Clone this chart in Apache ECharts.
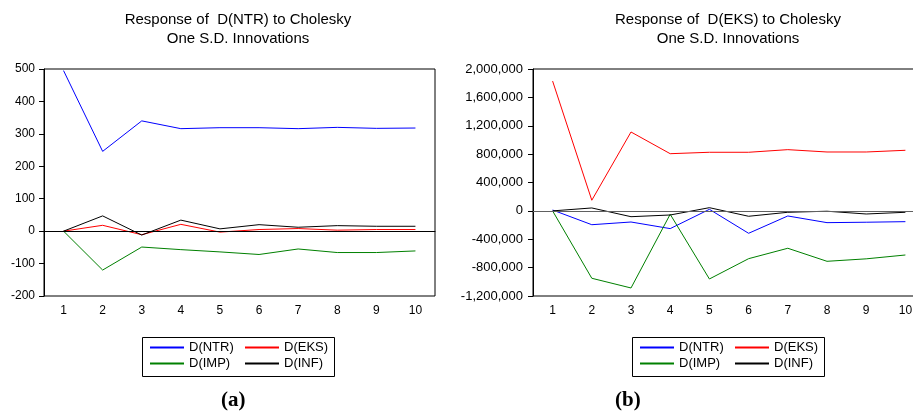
<!DOCTYPE html>
<html>
<head>
<meta charset="utf-8">
<script src="https://cdn.jsdelivr.net/npm/echarts@6/dist/echarts.min.js"></script>
<style>
    html, body { margin: 0; padding: 0; background: #fff; overflow: hidden; }
    /* 右图在原图中被裁切, 画布比窗口略宽 */
    #chart { width: 925px; height: 414px; }
</style>
</head>
<body>
<div id="chart"></div>
<script>
// 横轴: 期数
var periods = ['1', '2', '3', '4', '5', '6', '7', '8', '9', '10'];
var names = ['D(NTR)', 'D(EKS)', 'D(IMP)', 'D(INF)'];

// (a) D(NTR) 的响应
var ntrOnNtr = [495, 246, 340, 316, 319, 319, 316, 320, 317, 318];
var ntrOnEks = [0, 18, -11, 21, -3, 5, 8, 3, 5, 5];
var ntrOnImp = [0, -120, -49, -57, -64, -72, -55, -66, -66, -61];
var ntrOnInf = [0, 47, -12, 34, 7, 20, 12, 17, 15, 15];

// (b) D(EKS) 的响应
var eksOnNtr = [12000, -195000, -157000, -250000, 22000, -316000, -72000, -166000, -160000, -152000];
var eksOnEks = [1830000, 150000, 1112000, 806000, 826000, 826000, 863000, 830000, 830000, 854000];
var eksOnImp = [0, -950000, -1087000, -48000, -960000, -674000, -527000, -711000, -676000, -622000];
var eksOnInf = [0, 41000, -82000, -58000, 45000, -76000, -20000, -5000, -44000, -20000];

var colors = ['#0000ff', '#ff0000', '#008000', '#000000'];
var labelFont = 'Liberation Sans, Arial, sans-serif';

var myChart = echarts.init(document.getElementById('chart'));

function lineSeries(name, data, idx, color) {
    return {
        name: name,
        type: 'line',
        data: data,
        xAxisIndex: idx,
        yAxisIndex: idx,
        showSymbol: false,
        symbol: 'none',
        animation: false,
        lineStyle: { width: 1, color: color },
        itemStyle: { color: color }
    };
}

// 零线
function zeroLine(idx, color) {
    return {
        type: 'line',
        data: [],
        xAxisIndex: idx,
        yAxisIndex: idx,
        silent: true,
        markLine: {
            silent: true,
            symbol: 'none',
            label: { show: false },
            animation: false,
            lineStyle: { type: 'solid', width: 1, color: color },
            data: [{ yAxis: 0 }]
        }
    };
}

function xAxisOf(idx) {
    return {
        type: 'category',
        gridIndex: idx,
        data: periods,
        boundaryGap: true,
        axisLine: { lineStyle: { color: '#000', width: 1 } },
        axisTick: { length: 5, lineStyle: { color: '#000' } },
        axisLabel: { color: '#000', fontFamily: labelFont, fontSize: 12, margin: 9 },
        splitLine: { show: false }
    };
}

function legendCol(data, left) {
    return {
        data: data,
        orient: 'vertical',
        left: left,
        top: 341,
        icon: 'rect',
        itemWidth: 34,
        itemHeight: 2,
        itemGap: 3,
        padding: 0,
        selectedMode: false,
        textStyle: { color: '#000', fontFamily: labelFont, fontSize: 13, lineHeight: 13 }
    };
}

function titleText(cx, text) {
    return {
        type: 'text',
        left: cx - 130,
        top: 11,
        style: {
            text: text,
            width: 260,
            align: 'center',
            textAlign: 'center',
            x: 130,
            lineHeight: 18.6,
            font: '15px ' + labelFont,
            fill: '#000'
        }
    };
}

var option = {
    backgroundColor: '#fff',
    animation: false,
    grid: [
        { left: 44, top: 69, width: 391, height: 227, show: true, borderColor: '#000', borderWidth: 1 },
        { left: 533, top: 69, width: 392, height: 227, show: true, borderColor: '#000', borderWidth: 1 }
    ],
    xAxis: [xAxisOf(0), xAxisOf(1)],
    yAxis: [
        {
            type: 'value',
            gridIndex: 0,
            min: -200,
            max: 500,
            interval: 100,
            axisLine: { show: true, lineStyle: { color: '#000' } },
            axisTick: { show: true, length: 5, lineStyle: { color: '#000' } },
            axisLabel: { color: '#000', fontFamily: labelFont, fontSize: 12, margin: 9 },
            splitLine: { show: false }
        },
        {
            type: 'value',
            gridIndex: 1,
            min: -1200000,
            max: 2000000,
            interval: 400000,
            axisLine: { show: true, lineStyle: { color: '#000' } },
            axisTick: { show: true, length: 5, lineStyle: { color: '#000' } },
            axisLabel: {
                color: '#000', fontFamily: labelFont, fontSize: 13, margin: 10,
                formatter: function (v) { return v.toLocaleString('en-US'); }
            },
            splitLine: { show: false }
        }
    ],
    legend: [
        legendCol(['D(NTR)', 'D(IMP)'], 150),
        legendCol(['D(EKS)', 'D(INF)'], 245),
        legendCol(['D(NTR)', 'D(IMP)'], 640),
        legendCol(['D(EKS)', 'D(INF)'], 735)
    ],
    graphic: [
        titleText(238, 'Response of  D(NTR) to Cholesky\nOne S.D. Innovations'),
        titleText(728, 'Response of  D(EKS) to Cholesky\nOne S.D. Innovations'),
        {
            type: 'rect',
            shape: { x: 142.5, y: 337.5, width: 192, height: 39 },
            style: { fill: 'none', stroke: '#000', lineWidth: 1 },
            z: 0
        },
        {
            type: 'rect',
            shape: { x: 632.5, y: 337.5, width: 192, height: 39 },
            style: { fill: 'none', stroke: '#000', lineWidth: 1 },
            z: 0
        },
        {
            type: 'text',
            left: 221,
            top: 390,
            style: { text: '(a)', font: 'bold 21px Liberation Serif, Times New Roman, serif', fill: '#000' }
        },
        {
            type: 'text',
            left: 615,
            top: 390,
            style: { text: '(b)', font: 'bold 21px Liberation Serif, Times New Roman, serif', fill: '#000' }
        }
    ],
    series: [
        zeroLine(0, '#000'),
        lineSeries(names[0], ntrOnNtr, 0, colors[0]),
        lineSeries(names[1], ntrOnEks, 0, colors[1]),
        lineSeries(names[2], ntrOnImp, 0, colors[2]),
        lineSeries(names[3], ntrOnInf, 0, colors[3]),
        zeroLine(1, '#606060'),
        lineSeries(names[0], eksOnNtr, 1, colors[0]),
        lineSeries(names[1], eksOnEks, 1, colors[1]),
        lineSeries(names[2], eksOnImp, 1, colors[2]),
        lineSeries(names[3], eksOnInf, 1, colors[3])
    ]
};

myChart.setOption(option);
window.addEventListener('resize', function () {
    myChart.resize();
});
</script>
</body>
</html>
